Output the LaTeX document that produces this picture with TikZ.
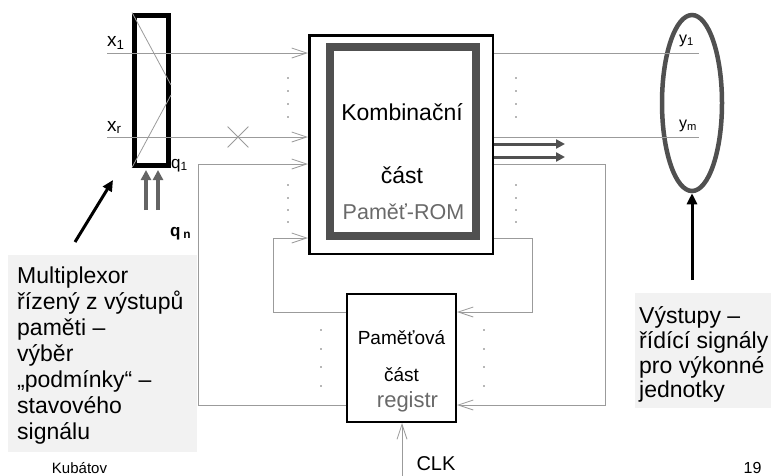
\documentclass[tikz,border=0pt]{standalone}
\usepackage{fontspec}
\setmainfont{Liberation Sans}
\usetikzlibrary{arrows.meta,shapes.geometric,shapes.misc,calc}
\definecolor{wire}{RGB}{155,155,155}
\definecolor{darkframe}{RGB}{80,80,80}
\definecolor{selgray}{RGB}{100,100,100}
\definecolor{calloutbg}{RGB}{242,242,242}
\definecolor{dotgray}{RGB}{110,110,110}
\definecolor{softtext}{RGB}{105,105,105}

\begin{document}
\begin{tikzpicture}[x=1pt,y=-1pt,
	wire/.style={draw=wire, line width=1pt},
	sig/.style={wire, -{Straight Barb[length=15pt,width=10pt,line width=0.8pt]}},
	fat/.style={draw=darkframe, line width=3pt, -{Triangle[length=9pt,width=9pt]}},
	selarrow/.style={draw=selgray, line width=3.5pt, -{Triangle[length=10pt,width=10pt]}},
	pointer/.style={draw=black, line width=3pt, -{Triangle[length=11pt,width=10pt]}},
	lbl/.style={inner sep=0pt, anchor=base},
	callout/.style={inner sep=0pt, align=left, anchor=north west}]
		\useasboundingbox (0,0) rectangle (771,475);

		\fill[calloutbg] (8,255) rectangle (197,452);
		\fill[calloutbg] (635,293) rectangle (771,408);

		\node[draw, line width=5pt, minimum width=34pt, minimum height=150pt] (mux) at (151.5,90) {};
		\node[draw, line width=2.5pt, minimum width=183.5pt, minimum height=218.5pt] (rom) at (401,144.5) {};
		\node[draw=darkframe, line width=8pt, minimum width=146pt, minimum height=189pt] (romcore) at (403,141.5) {};
		\node[draw, line width=2pt, minimum width=109pt, minimum height=128pt] (reg) at (401.5,358) {};
		\node[draw=darkframe, ellipse, line width=4.5pt, minimum width=60pt, minimum height=176pt] (outs) at (692,103) {};

		\draw[wire, line width=0.8pt] (mux.north west) -- ($(mux.east)+(0,-5)$);
		\draw[wire, line width=0.8pt] ($(mux.east)+(0,5)$) -- (mux.south west);

		\coordinate (x1in) at (107,53);
		\coordinate (xrin) at (107,137);
		\draw[sig] (x1in) -- (x1in -| rom.west);
		\draw[sig] (xrin) -- (xrin -| rom.west);
		\node[cross out, draw=wire, line width=0.8pt, minimum size=20pt, inner sep=0pt] (cut) at (238,137) {};

		\coordinate (q1bend) at (198,164);
		\coordinate (qnbend) at (273,238);
		\draw[sig] (reg.west |- 0,405) -| (q1bend) -- (q1bend -| rom.west);
		\draw[sig] (reg.west |- 0,312) -| (qnbend) -- (qnbend -| rom.west);

		\coordinate (fb1) at (605,405);
		\coordinate (fb2) at (532,312);
		\draw[sig] (rom.east |- 0,164) -| (fb1) -- (fb1 -| reg.east);
		\draw[sig] (rom.east |- 0,238) -| (fb2) -- (fb2 -| reg.east);

		\coordinate (y1end) at (699,53);
		\coordinate (ymend) at (699,137);
		\draw[wire] (rom.east |- y1end) -- (y1end);
		\draw[wire] (rom.east |- ymend) -- (ymend);
		\coordinate (o1) at (565,144);
		\coordinate (o2) at (565,157);
		\draw[fat] (rom.east |- o1) -- (o1);
		\draw[fat] (rom.east |- o2) -- (o2);

		\coordinate (clk) at (402,480);
		\draw[sig] (clk) -- (clk |- reg.south);

		\coordinate (sel1) at (146,210);
		\coordinate (sel2) at (158,210);
		\draw[selarrow, shorten >=2.5pt] (sel1) -- (sel1 |- mux.south);
		\draw[selarrow, shorten >=2.5pt] (sel2) -- (sel2 |- mux.south);

		\coordinate (mptr) at (75,242);
		\coordinate (mtip) at (113,180);
		\draw[pointer] (mptr) -- (mtip);
		\coordinate (optr) at (692,280);
		\draw[pointer] (optr) -- (outs.south);

		\foreach \cx in {288,516}
			\foreach \cy in {78,91,104,117,185,198,210,222}
				\fill[dotgray] (\cx,\cy) circle (0.9pt);
		\foreach \cx in {321,484}
			\foreach \cy in {330,349,367,386}
				\fill[dotgray] (\cx,\cy) circle (0.9pt);

		\node[lbl, anchor=base west, font=\fontsize{19}{19}\selectfont] (x1lbl) at (107,46) {x\textsubscript{1}};
		\node[lbl, anchor=base west, font=\fontsize{19}{19}\selectfont] (xrlbl) at (107,131) {x\textsubscript{r}};
		\node[lbl, anchor=base west, font=\fontsize{16}{16}\selectfont] (y1lbl) at (679,43) {y\textsubscript{1}};
		\node[lbl, anchor=base west, font=\fontsize{16}{16}\selectfont] (ymlbl) at (679,128) {y\textsubscript{m}};
		\node[lbl, anchor=base west, font=\fontsize{17}{17}\selectfont] (q1lbl) at (171,168) {q\textsubscript{1}};
		\node[lbl, anchor=base west, font=\bfseries\fontsize{17}{17}\selectfont] (qnlbl) at (170,236) {q\,\textsubscript{n}};

		\node[lbl, font=\fontsize{23}{23}\selectfont] (kombi) at (402,120) {Kombinační};
		\node[lbl, font=\fontsize{23}{23}\selectfont] (kombicast) at (402,183) {část};
		\node[lbl, font=\fontsize{21.5}{21.5}\selectfont, text=softtext] (romtype) at (403.5,219) {Paměť-ROM};
		\node[lbl, font=\fontsize{19}{19}\selectfont] (regname) at (401.5,344) {Paměťová};
		\node[lbl, font=\fontsize{19}{19}\selectfont] (regcast) at (401.5,381) {část};
		\node[lbl, font=\fontsize{22}{22}\selectfont, text=softtext] (regtype) at (407.5,407) {registr};
		\node[lbl, font=\fontsize{20}{20}\selectfont] (clklbl) at (436,470.5) {CLK};

		\node[callout, font=\fontsize{23}{26}\selectfont] (muxnote) at (17,266.5) {Multiplexor\\řízený z výstupů\\paměti –\\výběr\\„podmínky“ –\\stavového\\signálu};
		\node[callout, font=\fontsize{23}{24.7}\selectfont] (outnote) at (639,306.5) {Výstupy –\\řídící signály\\pro výkonné\\jednotky};

		\node[lbl, font=\fontsize{15}{15}\selectfont] (author) at (79.5,473) {Kubátov};
		\node[lbl, font=\fontsize{16}{16}\selectfont] (pageno) at (752.5,473) {19};

	\end{tikzpicture}
\end{document}
